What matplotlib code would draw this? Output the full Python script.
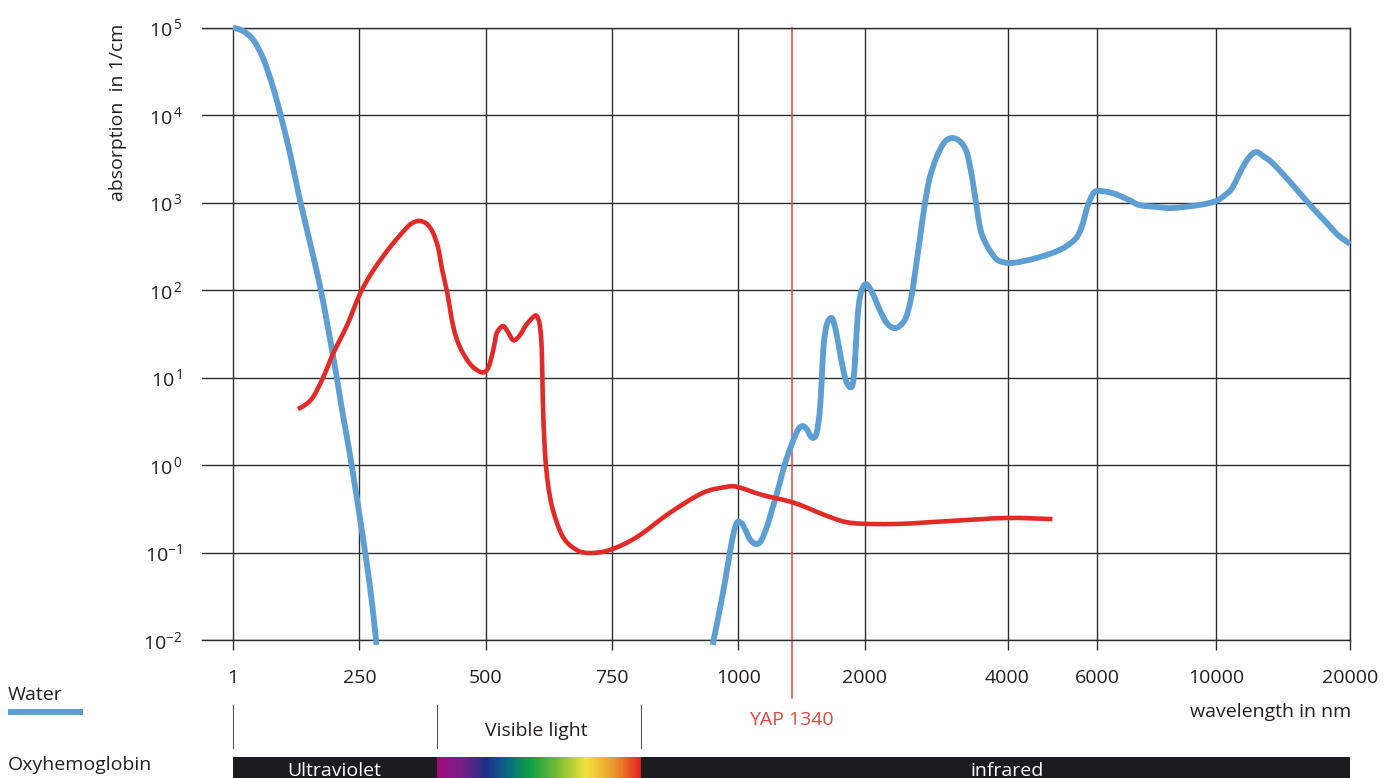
import numpy as np
import matplotlib
matplotlib.use('Agg')
from matplotlib import pyplot as plt
from matplotlib.colors import LinearSegmentedColormap
from matplotlib.lines import Line2D
from matplotlib.patches import PathPatch
from matplotlib.path import Path
from matplotlib.ticker import NullLocator

plt.rcParams['font.family'] = ['Open Sans', 'DejaVu Sans']
plt.rcParams['mathtext.fontset'] = 'custom'
plt.rcParams['mathtext.rm'] = 'Open Sans'
plt.rcParams['mathtext.it'] = 'Open Sans:italic'
plt.rcParams['mathtext.bf'] = 'Open Sans:bold'

# axis layout (wavelength ticks are not evenly spaced in the original)
tick_wl = [1, 250, 500, 750, 1000, 2000, 4000, 6000, 10000, 20000]
tick_pos = [0, 1, 2, 3, 4, 5, 6.13, 6.84, 7.78, 8.84]
decades = [-2, -1, 0, 1, 2, 3, 4, 5]

# water, UV part
water_uv_wl = [1, 21, 41, 60, 78, 94, 114, 133, 153, 173, 189, 203, 216, 230,
               242, 254, 266, 276, 284]
water_uv_abs = [1e5, 9.1e4, 7.2e4, 4.5e4, 2.26e4, 1.05e4, 3.5e3, 1.07e3, 344,
                108, 34.9, 12.2, 4.26, 1.48, 0.546, 0.195, 0.0665, 0.0238, 0.0088]

# water, IR part
water_ir_wl = [949, 963, 974, 984, 992, 998, 1017, 1039, 1068, 1104, 1135, 1173,
               1206, 1232, 1260, 1288, 1324, 1361, 1391, 1422, 1454, 1486, 1511,
               1536, 1562, 1579, 1596, 1623, 1659, 1687, 1724, 1762, 1802, 1842,
               1872, 1893, 1914, 1935, 1967, 2010, 2049, 2099, 2151, 2225, 2302,
               2370, 2440, 2500, 2549, 2611, 2675, 2741, 2835, 2947, 3064, 3185,
               3279, 3360, 3425, 3509, 3613, 3738, 3848, 4091, 4558, 5056, 5410,
               5583, 5736, 5867, 6000, 6399, 6883, 7186, 7763, 8279, 9296, 10000,
               10480, 10870, 11452, 11876, 12318, 12842, 13388, 14403, 15412,
               16493, 17742, 18789, 20000]
water_ir_abs = [0.0088, 0.022, 0.0485, 0.107, 0.181, 0.223, 0.217, 0.181, 0.139,
                0.125, 0.139, 0.206, 0.323, 0.454, 0.674, 1.0, 1.48, 2.09, 2.58,
                2.79, 2.58, 2.14, 2.04, 2.32, 4.04, 9.36, 23.5, 39.8, 47.9, 43.1,
                26.8, 15.0, 9.36, 7.78, 8.43, 13.9, 34.9, 67.4, 100, 117, 105,
                81.1, 59.1, 42.0, 36.8, 38.8, 47.9, 76.9, 148, 373, 936, 1905,
                3311, 4909, 5457, 4909, 3776, 2061, 1068, 485, 327, 245, 214, 204,
                232, 286, 373, 512, 889, 1219, 1353, 1284, 1068, 936, 889, 865,
                936, 1040, 1219, 1466, 2477, 3311, 3776, 3311, 2825, 1905, 1284,
                865, 583, 425, 336]

# oxyhemoglobin
hb_wl = [129, 143, 159, 179, 199, 226, 252, 278, 311, 345, 359, 370, 384, 396,
         406, 414, 424, 436, 449, 469, 489, 501, 509, 517, 522, 534, 544, 552,
         558, 568, 580, 594, 601, 607, 611, 613, 617, 623, 633, 653, 680, 706,
         746, 799, 864, 929, 976, 998, 1141, 1361, 1650, 1872, 2336, 3020, 3986,
         4899]
hb_abs = [4.37, 4.85, 5.99, 10.1, 19.1, 39.8, 92.4, 169, 310, 524, 598, 615, 568,
          448, 302, 169, 92.4, 37.8, 22.3, 14.3, 11.6, 11.9, 15.0, 23.5, 32.3,
          38.8, 33.1, 27.5, 26.8, 30.6, 39.8, 49.1, 50.4, 39.8, 20.6, 5.53, 1.48,
          0.622, 0.306, 0.150, 0.107, 0.0987, 0.107, 0.150, 0.283, 0.479, 0.561,
          0.561, 0.454, 0.368, 0.255, 0.217, 0.212, 0.229, 0.248, 0.241]

yap_wl = 1340
uv_end, vis_end = 404, 807

blue = '#5e9fd3'
red = '#e32a27'
grid_c = '#2e2e2e'
text_c = '#231f20'


def _g(w):
    w = np.asarray(w, dtype=float)
    return np.where(w <= 1000, w, 1000 + 1000 * np.log10(np.clip(w, 1000, None) / 1000))


def _g_inv(u):
    u = np.asarray(u, dtype=float)
    return np.where(u <= 1000, u, 1000 * 10 ** ((np.clip(u, 1000, None) - 1000) / 1000))


_gk = _g(tick_wl)
_gk = np.concatenate([[_gk[0] - (_gk[1] - _gk[0])], _gk, [_gk[-1] + (_gk[-1] - _gk[-2])]])
_pk = np.concatenate([[tick_pos[0] - 1], tick_pos, [tick_pos[-1] + 1]])


def fwd(w):
    return np.interp(_g(w), _gk, _pk)


def inv(p):
    return _g_inv(np.interp(p, _pk, _gk))


def smooth_path(wl, val):
    # Catmull-Rom through the read points, as bezier segments in scaled space
    p = np.column_stack([fwd(wl), np.log10(val)])
    ext = np.vstack([p[0], p, p[-1]])
    verts = [p[0]]
    for i in range(len(p) - 1):
        c1 = ext[i + 1] + (ext[i + 2] - ext[i]) / 6
        c2 = ext[i + 2] - (ext[i + 3] - ext[i + 1]) / 6
        verts += [c1, c2, ext[i + 2]]
    verts = np.array(verts)
    verts = np.column_stack([inv(verts[:, 0]), 10 ** verts[:, 1]])
    codes = [Path.MOVETO] + [Path.CURVE4] * (len(verts) - 1)
    return Path(verts, codes)


W, H = 1392, 778
fig = plt.figure(figsize=(W / 100, H / 100), dpi=100)
ax = fig.add_axes([202 / W, 138 / H, 1148 / W, 612.5 / H])
ax.set_xscale('function', functions=(fwd, inv))
ax.set_yscale('log')
x_left = float(inv(tick_pos[0] - 0.245))
ax.set_xlim(x_left, tick_wl[-1])
ax.set_ylim(10.0 ** decades[0], 10.0 ** decades[-1])

ax.set_xticks(tick_wl, labels=[str(t) for t in tick_wl])
ax.xaxis.set_minor_locator(NullLocator())
ylabels = []
for d in decades:
    if d < 0:
        ylabels.append(r'$\mathregular{10^{%d}}$' % d)
    else:
        ylabels.append(r'$\mathregular{10^{\,%d}}$' % d)
ax.set_yticks([10.0 ** d for d in decades], labels=ylabels)
ax.yaxis.set_minor_locator(NullLocator())

ax.set_axisbelow(True)
ax.grid(True, color=grid_c, lw=1.0)
ax.spines['left'].set_visible(False)
for s in ['top', 'right', 'bottom']:
    ax.spines[s].set_color(grid_c)
    ax.spines[s].set_linewidth(1.0)
ax.tick_params(axis='x', length=7.2, width=1.0, color=grid_c, pad=13.5,
               labelsize=14, labelcolor=text_c)
ax.tick_params(axis='y', length=0, pad=14, labelsize=14, labelcolor=text_c)

# YAP laser line
ax.axvline(yap_wl, ymin=-0.0947, ymax=1, color='#e8453d', lw=1.1, clip_on=False, zorder=2)

for wl, val, col, lw, z in [(water_uv_wl, water_uv_abs, blue, 4.2, 3),
                            (water_ir_wl, water_ir_abs, blue, 4.2, 3),
                            (hb_wl, hb_abs, red, 3.3, 4)]:
    ax.add_patch(PathPatch(smooth_path(wl, val), fill=False, edgecolor=col, lw=lw,
                           capstyle='butt', joinstyle='round', clip_on=False,
                           zorder=z))

# region dividers and labels under the axis
xt = ax.get_xaxis_transform()
for b in [tick_wl[0], uv_end, vis_end]:
    ax.plot([b, b], [-0.1061, -0.1763], transform=xt, color='#555555', lw=0.8,
            clip_on=False)
ax.text(600, -0.157, 'Visible light', transform=xt, ha='center', va='baseline',
        fontsize=14, color=text_c)
ax.text(yap_wl, -0.1388, 'YAP 1340', transform=xt, ha='center', va='baseline',
        fontsize=14, color='#e8453d')

# coloured band
bax = fig.add_axes([202 / W, 0, 1148 / W, 21 / H])
bax.set_xscale('function', functions=(fwd, inv))
bax.set_xlim(x_left, tick_wl[-1])
bax.set_ylim(0, 1)
bax.axis('off')
bax.axvspan(tick_wl[0], tick_wl[-1], color='#1c1b20', lw=0)
spec = LinearSegmentedColormap.from_list('spec', [
    (0.0, '#a3087e'), (0.12, '#732286'), (0.24, '#1e2e86'), (0.34, '#0a6688'),
    (0.45, '#0a9f45'), (0.58, '#6fb534'), (0.73, '#f0e43b'), (0.87, '#eb9b2e'),
    (1.0, '#e0221d')])
xe = np.linspace(uv_end, vis_end, 201)
bax.pcolormesh(xe, [0, 1], np.linspace(0, 1, 200)[None, :], cmap=spec,
               shading='flat', antialiased=False)
bax.text(200, 0.08, 'Ultraviolet', ha='center', va='baseline', fontsize=14, color='white')
bax.text(4000, 0.08, 'infrared', ha='center', va='baseline', fontsize=14, color='white')

# texts on the figure
fig.text(118 / W, 1 - 112 / H, 'absorption  in 1/cm', rotation=90, ha='center',
         va='center', fontsize=14, color=text_c)
fig.text(1190 / W, 1 - 717 / H, 'wavelength in nm', ha='left', va='baseline',
         fontsize=14, color=text_c)
fig.text(8 / W, 1 - 700 / H, 'Water', ha='left', va='baseline', fontsize=14, color=text_c)
fig.add_artist(Line2D([8 / W, 83 / W], [1 - 712 / H] * 2, transform=fig.transFigure,
                      color=blue, lw=4.3, solid_capstyle='butt'))
fig.text(8 / W, 1 - 770 / H, 'Oxyhemoglobin', ha='left', va='baseline', fontsize=14,
         color=text_c)

fig.savefig('out.png', dpi=100)
